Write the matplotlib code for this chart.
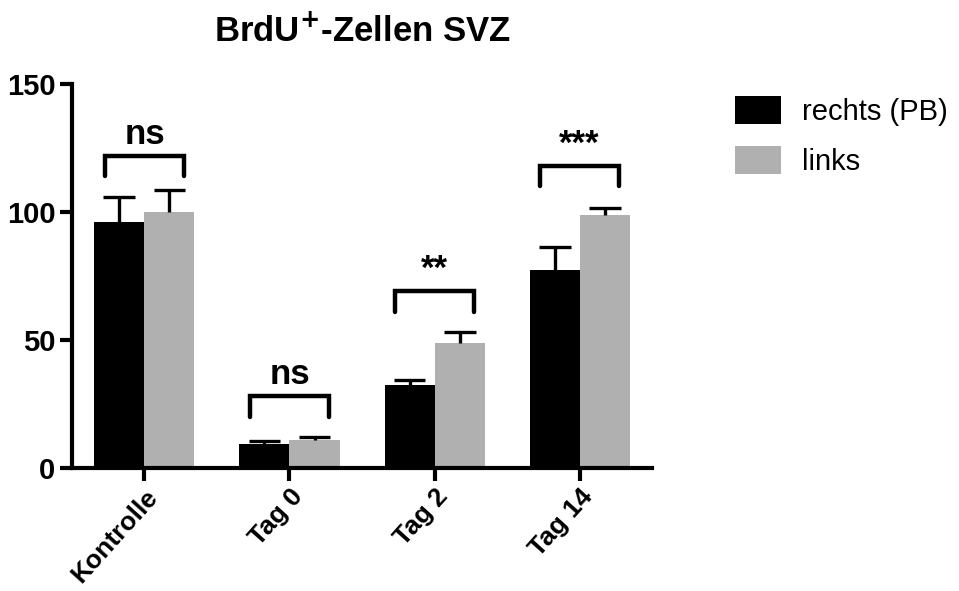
import numpy as np
import matplotlib.pyplot as plt
from matplotlib.patches import Patch

plt.rcParams['font.family'] = ['Liberation Sans', 'DejaVu Sans']

# --- data ---
groups = ['Kontrolle', 'Tag 0', 'Tag 2', 'Tag 14']
rechts = [96, 9.4, 32.5, 77.5]
rechts_err = [10, 1.0, 2.0, 9.0]
links = [100, 11, 49, 99]
links_err = [8.5, 1.0, 4.0, 2.5]
sig_labels = ['ns', 'ns', '**', '***']
bracket_top = [122, 28, 69, 118]
leg_labels = ['rechts (PB)', 'links']

black = '#000000'
grey = '#b0b0b0'

x = np.arange(len(groups))
w = 0.345
cap = 0.11

fig = plt.figure(figsize=(9.59, 5.91), dpi=100)
ax = fig.add_axes([0.075, 0.208, 0.605, 0.65])

ax.bar(x - w/2, rechts, w, color=black, zorder=2)
ax.bar(x + w/2, links, w, color=grey, zorder=2)

# upper-only error bars
for pos, vals, errs in [(x - w/2, rechts, rechts_err), (x + w/2, links, links_err)]:
    vals = np.asarray(vals)
    tops = vals + np.asarray(errs)
    ax.vlines(pos, vals, tops, color='black', linewidth=2.4, zorder=3)
    ax.hlines(tops, pos - cap, pos + cap, color='black', linewidth=2.4, zorder=3)

# significance brackets
for xi, top, lab in zip(x, bracket_top, sig_labels):
    bx = [xi - 0.275, xi - 0.275, xi + 0.275, xi + 0.275]
    by = [top - 8, top, top, top - 8]
    ax.plot(bx, by, color='black', linewidth=3.2, solid_capstyle='round',
            solid_joinstyle='miter')
    ax.text(xi, top + 2, lab, ha='center', va='bottom', fontsize=25,
            fontweight='bold')

ax.set_xlim(-0.5, 3.5)
ax.set_ylim(0, 150)
ax.set_yticks([0, 50, 100, 150])
ax.set_xticks(x)
ax.set_xticklabels(groups, rotation=48, ha='right', rotation_mode='anchor',
                   fontsize=19, fontweight='bold')
for lbl in ax.get_yticklabels():
    lbl.set_fontweight('bold')
    lbl.set_fontsize(21)
ax.tick_params(width=3, length=9, pad=3)

ax.spines['top'].set_visible(False)
ax.spines['right'].set_visible(False)
ax.spines['left'].set_linewidth(3)
ax.spines['bottom'].set_linewidth(3)

fig.text(0.378, 0.948, 'BrdU$^{\\mathbf{+}}$-Zellen SVZ', ha='center', va='center',
         fontsize=25, fontweight='bold')

handles = [Patch(facecolor=black), Patch(facecolor=grey)]
fig.legend(handles, leg_labels, loc='upper left', bbox_to_anchor=(0.766, 0.838),
           frameon=False, fontsize=21, handlelength=1.6, handleheight=1.1,
           labelspacing=0.7, handletextpad=0.7, borderpad=0, borderaxespad=0)

fig.savefig('out.png', dpi=100)
